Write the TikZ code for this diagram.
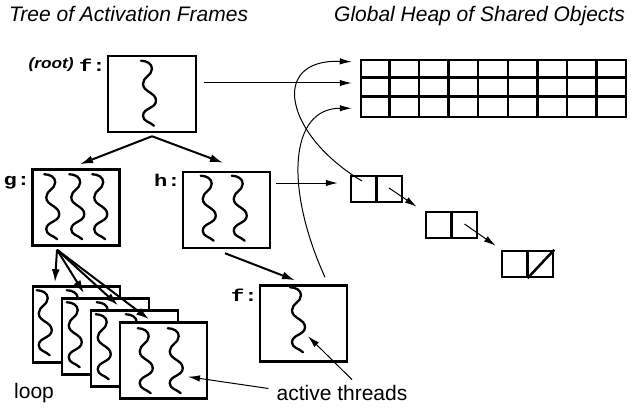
\documentclass[tikz,border=0pt]{standalone}
\usepackage{fontspec}
\setmainfont{Liberation Sans}
\newfontfamily\codefont[FakeStretch=1.3]{Liberation Mono}
\newfontfamily\notefont[FakeStretch=1.15]{Liberation Sans}
\usepackage{tikz}
\usetikzlibrary{arrows.meta}
\tikzstyle{frame} = [rectangle, minimum width=87pt, minimum height=76pt, inner sep=0pt, draw=black, line width=2.5pt, fill=white]
\tikzstyle{cell} = [rectangle, minimum width=51pt, minimum height=26pt, inner sep=0pt, draw=black, line width=2.5pt]
\tikzstyle{rule} = [line width=2.5pt]
\tikzstyle{thread} = [line width=2.3pt, line cap=round]
\tikzstyle{tree} = [line width=2pt, -{Latex[length=13pt,width=8pt]}]
\tikzstyle{arrow} = [line width=1pt, -{Latex[length=12pt,width=6.5pt]}]
\tikzstyle{frametag} = [font=\fontsize{17}{17}\selectfont\codefont\bfseries, inner sep=0pt, anchor=base east]
\tikzstyle{caption} = [font=\fontsize{21}{25}\selectfont, inner sep=0pt, anchor=base]
\tikzstyle{title} = [font=\fontsize{21}{25}\selectfont\itshape, inner sep=0pt, anchor=base west]
\newcommand{\thread}[1]{\draw [thread] (#1) to[out=0,in=90] ++(11,-8) to[out=-90,in=90] ++(-9,-15) to[out=-90,in=90] ++(13,-17) to[out=-90,in=90] ++(-13,-15) to[out=-90,in=135] ++(11,-10);}

\begin{document}
\begin{tikzpicture}[x=1pt, y=1pt, node distance=29pt]
        \useasboundingbox (0,0) rectangle (631,-409);

        \node (treetitle) [title] at (9,-21.5) {Tree of Activation Frames};
        \node (heaptitle) [title] at (334,-21.5) {Global Heap of Shared Objects};

        \node (root) [frame, minimum width=88pt] at (152,-94) {};
        \thread{[shift={(-11,-6)}]root.north}
        \node (roottag) [frametag] at ([shift={(-1,-17)}]root.north west) {f:};
        \node (rootnote) [font=\fontsize{15}{15}\selectfont\notefont\bfseries\itshape, inner sep=0pt, anchor=base east] at ([xshift=-5pt, yshift=3pt]roottag.base west) {(root)};

        \node (g) [frame] at (76,-207.5) {};
        \thread{[shift={(13,-6)}]g.north west}
        \thread{[shift={(38,-6)}]g.north west}
        \thread{[shift={(61,-6)}]g.north west}
        \node (gtag) [frametag] at ([shift={(-1,-17)}]g.north west) {g:};

        \node (h) [frame] at (226.5,-210) {};
        \thread{[shift={(19,-5)}]h.north west}
        \thread{[shift={(50,-5)}]h.north west}
        \node (htag) [frametag] at ([shift={(-1,-16)}]h.north west) {h:};

        \node (f) [frame] at (303.5,-323.5) {};
        \thread{[shift={(-13.5,-3)}]f.north}
        \node (ftag) [frametag] at ([shift={(-1,-17)}]f.north west) {f:};

        \node (loop1) [frame] at (76.5,-324.5) {};
        \thread{[shift={(5,-5)}]loop1.north west}
        \thread{[shift={(35,-5)}]loop1.north west}
        \node (loop2) [frame, right of=loop1, yshift=-12pt] {};
        \thread{[shift={(6,-5)}]loop2.north west}
        \thread{[shift={(36,-5)}]loop2.north west}
        \node (loop3) [frame, right of=loop2, yshift=-12pt] {};
        \thread{[shift={(6,-5)}]loop3.north west}
        \thread{[shift={(36,-5)}]loop3.north west}
        \node (loop4) [frame, right of=loop3, yshift=-12pt] {};
        \thread{[shift={(19,-7)}]loop4.north west}
        \thread{[shift={(49,-7)}]loop4.north west}

        \node (looptag) [caption, anchor=base west] at (14,-398) {loop};
        \node (active) [caption] at (342,-400) {active threads};

        \node (heap) [rectangle, draw=black, line width=2.5pt, minimum width=265pt, minimum height=57pt, inner sep=0pt] at (493.5,-88.5) {};
        \foreach \i in {1,...,8}
            \draw [rule] ([xshift=\i*29.6pt]heap.north west) -- ([xshift=\i*29.6pt]heap.south west);
        \foreach \j in {1,2}
            \draw [rule] ([yshift=-\j*19pt]heap.north west) -- ([yshift=-\j*19pt]heap.north east);
        \coordinate (slot1) at ([shift={(-8,-3)}]heap.north west);
        \coordinate (slot2) at ([shift={(-8,5.5)}]heap.west);
        \coordinate (slot3) at ([shift={(-8,10)}]heap.south west);

        \node (cons1) [cell] at (376.5,-189) {};
        \node (cons2) [cell] at (451.5,-225) {};
        \node (cons3) [cell] at (527.5,-264) {};
        \foreach \c in {cons1,cons2,cons3}
            \draw [rule] (\c.north) -- (\c.south);
        \draw [rule] (cons3.south) -- (cons3.north east);
        \coordinate (hc) at ([shift={(-12,6)}]cons1.west);

        \draw [tree] ([yshift=-3pt]root.south) -- ([shift={(4,4)}]g.north);
        \draw [tree] ([yshift=-3pt]root.south) -- ([shift={(-3.5,8)}]h.north);
        \draw [tree] ([shift={(-1.5,-4)}]h.south) -- ([shift={(-8.5,4)}]f.north);
        \draw [tree] ([shift={(-19,-3)}]g.south) -- ([shift={(-21.5,3)}]loop1.north);
        \draw [tree] ([shift={(-19,-3)}]g.south) -- ([shift={(-21.5,4)}]loop2.north);
        \draw [tree] ([shift={(-19,-3)}]g.south) -- ([shift={(-16.5,4)}]loop3.north);
        \draw [tree] ([shift={(-19,-3)}]g.south) -- ([shift={(-14.5,2)}]loop4.north);

        \draw [arrow] ([xshift=7pt]root.east |- slot2) -- (slot2);
        \draw [arrow] ([xshift=5pt]h.east |- hc) -- (hc);
        \draw [arrow] ([shift={(12.5,1)}]cons1.center) -- ([shift={(-8,4)}]cons2.north west);
        \draw [arrow] ([shift={(13,1)}]cons2.center) -- ([shift={(-5,4)}]cons3.north west);
        \draw [arrow] ([shift={(-14.5,8)}]cons1.center) .. controls +(-77,46) and +(-83,3) .. (slot1);
        \draw [arrow] ([shift={(21.5,7)}]f.north) .. controls +(-40,88) and +(-63,0) .. (slot3);

        \draw [arrow] ([shift={(10,5)}]active.north) -- ([shift={(4.5,-52)}]f.north);
        \draw [arrow] ([shift={(-8,4)}]active.west) -- ([shift={(24.5,-55.5)}]loop4.north);
\end{tikzpicture}
\end{document}
